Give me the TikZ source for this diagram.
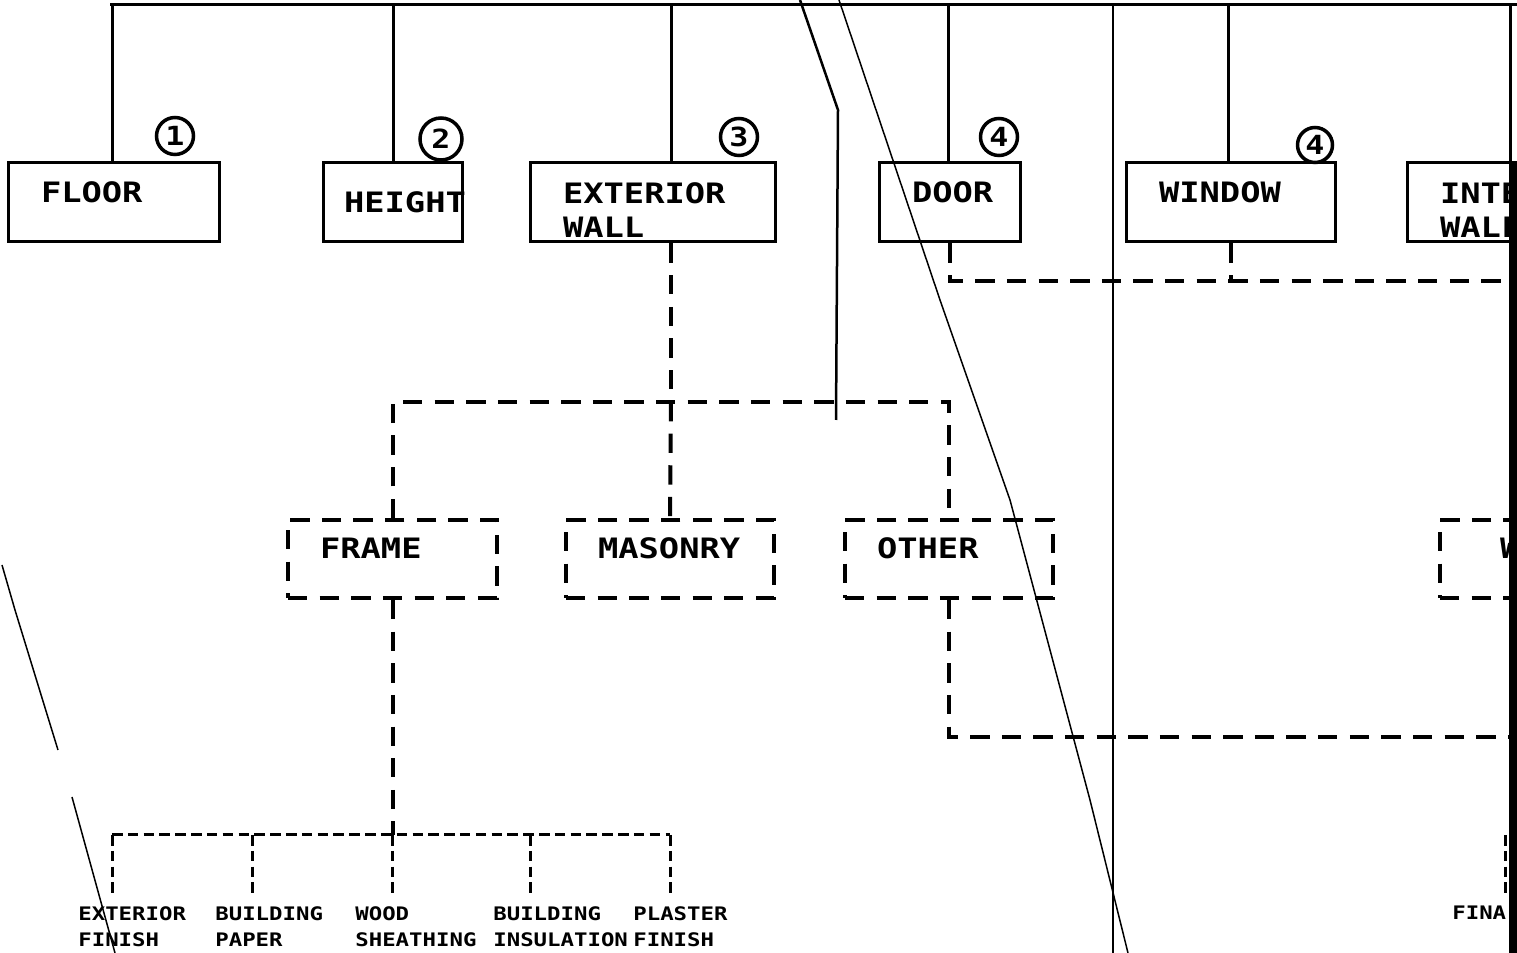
\documentclass[tikz,border=0pt]{standalone}
\usepackage{fontspec}
\newfontfamily\plotfont{DejaVu Sans Mono}[FakeStretch=1.2]
\newdimen\pxu \pxu=0.2mm

\begin{document}
\begin{tikzpicture}[
    x=0.2mm, y=-0.2mm,
    every node/.style={font=\plotfont\bfseries\fontsize{16}{19.3}\selectfont},
    bus/.style={line width=3\pxu},
    box/.style={draw, line width=3\pxu, align=left, minimum height=79\pxu, inner xsep=33\pxu, inner ysep=2pt},
    oneline/.style={text height=3mm, text depth=3mm},
    twoline/.style={text height=21pt, inner ysep=0pt},
    dbox/.style={draw, line width=4\pxu, dash pattern=on 11pt off 7pt, align=left, minimum height=78\pxu, inner xsep=32\pxu, inner ysep=2pt, oneline},
    num/.style={draw, circle, line width=3.5\pxu, minimum size=37\pxu, inner sep=0pt, font=\plotfont\bfseries\fontsize{15}{15}\selectfont},
    link/.style={line width=4\pxu, dash pattern=on 11pt off 7pt},
    sublink/.style={line width=3\pxu, dash pattern=on 6pt off 3pt},
    part/.style={align=left, anchor=north west, inner sep=0pt, font=\plotfont\bfseries\fontsize{10.6}{14.8}\selectfont},
    scan/.style={line width=1.5\pxu}
]
\useasboundingbox (0,0) rectangle (1517,953);
\clip (0,0) rectangle (1517,953);

% top row
\node[box, oneline, text width=145\pxu] (floor) at (113.5,202.5) {FLOOR};
\node[box, inner xsep=21\pxu, text width=97\pxu] (height) at (392.5,202.5) {HEIGHT};
\node[box, twoline, text width=179\pxu] (extwall) at (652.5,202.5) {EXTERIOR\\WALL};
\node[box, oneline, text width=75\pxu] (door) at (949.5,202.5) {DOOR};
\node[box, oneline, text width=143\pxu] (window) at (1230.5,202.5) {WINDOW};
\node[box, twoline, text width=144\pxu] (intwall) at (1512,202.5) {INTERIOR\\WALL};

\node[num] (n1) at (175,136) {1};
\node[num, minimum size=42\pxu] (n2) at (441,139) {2};
\node[num] (n3) at (739,137) {3};
\node[num] (n4) at (999,137) {4};
\node[num, minimum size=35\pxu] (n5) at (1315,145) {4};

\coordinate (busL) at (110,5);
\coordinate (busR) at (1517,5);
\draw[bus] (busL) -- (busR);
\foreach \b/\x [count=\i] in {floor/112, height/393, extwall/671, door/948, window/1228, intwall/1510}
  {\coordinate (bus\i) at (\x,5);
   \draw[bus] (bus\i) -- (bus\i |- \b.north);}

% wall types
\node[dbox, text width=145\pxu] (frame) at (392.5,559) {FRAME};
\node[dbox, text width=144\pxu] (masonry) at (670,559) {MASONRY};
\node[dbox, text width=144\pxu] (other) at (949,559) {OTHER};
\node[dbox, inner xsep=60\pxu, text width=88\pxu] (rbox) at (1544,559) {W};

\coordinate (wallhub) at (671,402);
\draw[link] (wallhub |- extwall.south) -- (wallhub);
\draw[link] (frame.north) -- (frame.north |- wallhub) -- (other.north |- wallhub) -- (other.north);
\draw[link] (wallhub) -- (masonry.north);

\coordinate (openend) at (1517,281);
\draw[link] (door.south) |- (openend);
\draw[link] (window.south) -- (window.south |- openend);

\coordinate (otherend) at (1517,737);
\draw[link] (other.south) |- (otherend);

% frame parts
\coordinate (framehub) at (392,835);
\draw[link] (frame.south) -- (frame.south |- framehub);
\node[part] (extfin) at (78,906) {EXTERIOR\\FINISH};
\node[part] (bldpaper) at (215,906) {BUILDING\\PAPER};
\node[part] (woodsh) at (355,906) {WOOD\\SHEATHING};
\node[part] (bldins) at (493,906) {BUILDING\\INSULATION};
\node[part] (plaster) at (633,906) {PLASTER\\FINISH};
\coordinate (j1) at (112,835);
\coordinate (j2) at (252,835);
\coordinate (j3) at (392,835);
\coordinate (j4) at (530,835);
\coordinate (j5) at (670,835);
\draw[sublink] (j1) -- (j5);
\foreach \j/\p in {j1/extfin, j2/bldpaper, j3/woodsh, j4/bldins, j5/plaster}
  \draw[sublink, shorten >=10\pxu] (\j) -- (\j |- \p.north);

\node[part] (finpart) at (1452,906) {FINA};
\coordinate (fintop) at (1505,835);
\draw[sublink, shorten >=10\pxu] (fintop) -- (fintop |- finpart.north);

% scan marks
\fill (1509,163) rectangle (1517,953);
\draw[scan] (839,0) -- (940,300) -- (1010,500) -- (1090,800) -- (1128,953);
\draw[scan, line width=2.5\pxu] (800,0) -- (838,110) -- (836,420);
\draw[scan] (1113,5) -- (1113,953);
\draw[scan] (2,565) -- (15,610) -- (58,750);
\draw[scan] (72,797) -- (115,953);
\end{tikzpicture}
\end{document}
